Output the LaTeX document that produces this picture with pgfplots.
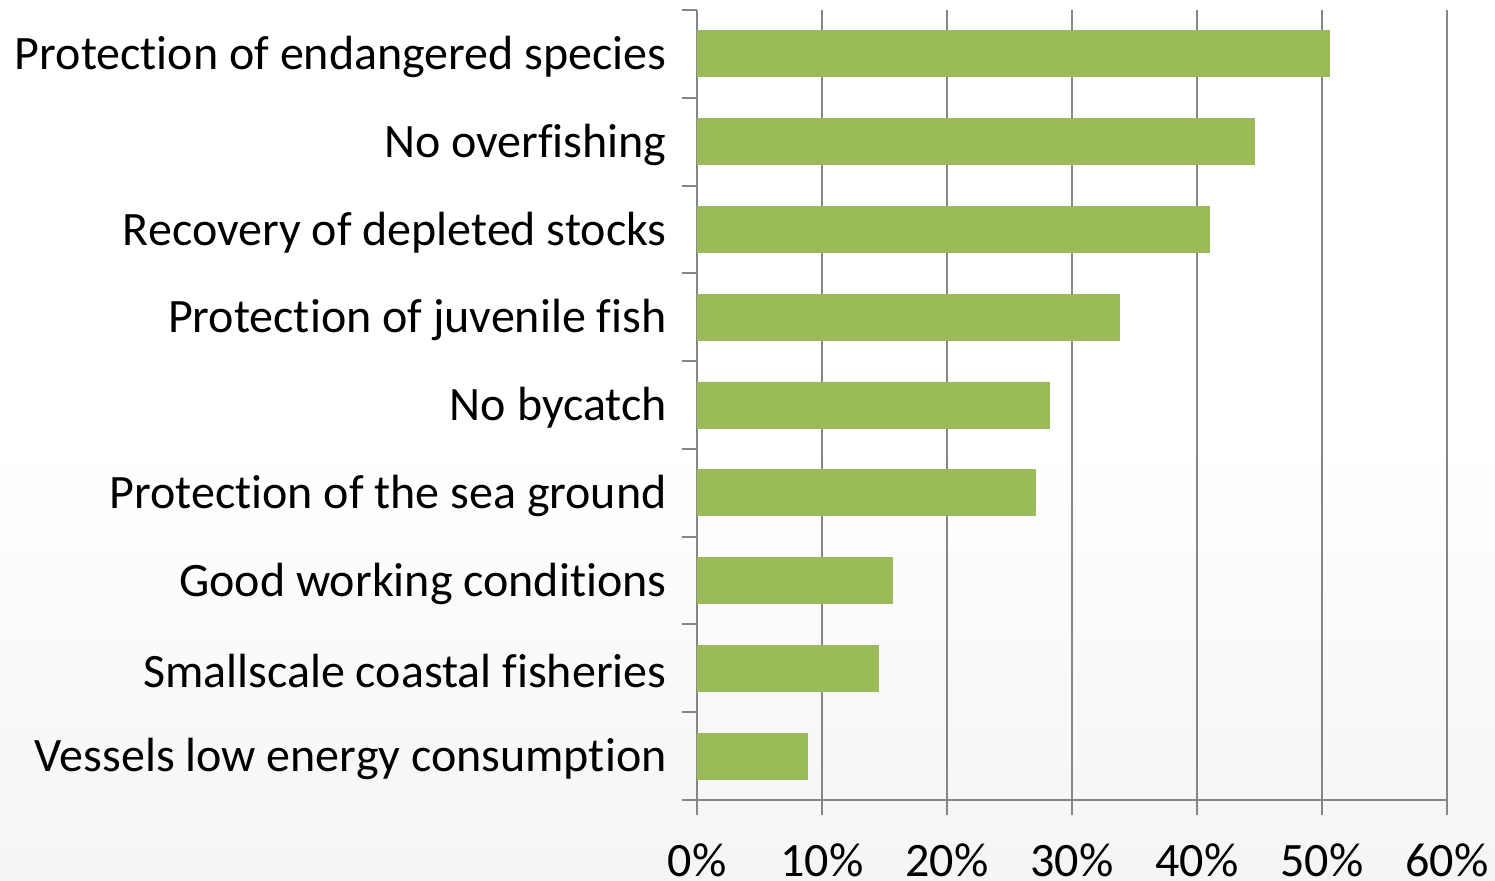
\documentclass[border=0pt]{standalone}
\usepackage{fontspec}
\setmainfont{Carlito}[Ligatures={NoCommon}]
\usepackage{pgfplots}
\pgfplotsset{compat=1.18}
\definecolor{bargreen}{HTML}{9BBB59}
\definecolor{gridgray}{HTML}{868686}
\pgfdeclareverticalshading{bg}{100bp}{color(0bp)=(black!7); color(25bp)=(black!4); color(50bp)=(white); color(100bp)=(white)}
\begin{document}
\begin{tikzpicture}
\fontsize{24}{28}\selectfont
\path[use as bounding box, shading=bg] (0,0) rectangle (747.5pt,440.5pt);
\begin{axis}[
  at={(348.5pt,40.5pt)}, anchor=south west,
  scale only axis, width=375pt, height=395pt,
  xbar, bar width=23pt,
  xmin=0, xmax=60, ymin=-0.5, ymax=8.5,
  axis lines*=left,
  axis line style={gridgray, line width=1pt},
  xtick={0,10,...,60},
  xticklabels={0\%,10\%,20\%,30\%,40\%,50\%,60\%},
  xmajorgrids, major grid style={gridgray, line width=1pt},
  ytick={0,...,8},
  yticklabels={Vessels low energy consumption, Smallscale coastal fisheries, Good working conditions, Protection of the sea ground, No bycatch, Protection of juvenile fish, Recovery of depleted stocks, No overfishing, Protection of endangered species},
  minor ytick={-0.5,0.5,...,8.5},
  tick align=outside,
  major tick length=7.5pt, minor tick length=7.5pt,
  x tick style={gridgray, line width=1pt},
  y tick style={draw=none},
  minor y tick style={draw=gridgray, line width=1pt},
  tick label style={font=\fontsize{24}{28}\selectfont, text=black},
  /pgf/number format/assume math mode=true,
  yticklabel style={inner sep=0pt, xshift=-7.5pt, yshift=-1.5pt},
  xticklabel style={inner sep=0pt, yshift=-14pt},
  clip=false,
]
\addplot[fill=bargreen, draw=bargreen] coordinates {
(8.8,0) (14.5,1) (15.6,2) (27.1,3) (28.2,4) (33.8,5) (41.0,6) (44.6,7) (50.6,8)
};
\end{axis}
\end{tikzpicture}
\end{document}
